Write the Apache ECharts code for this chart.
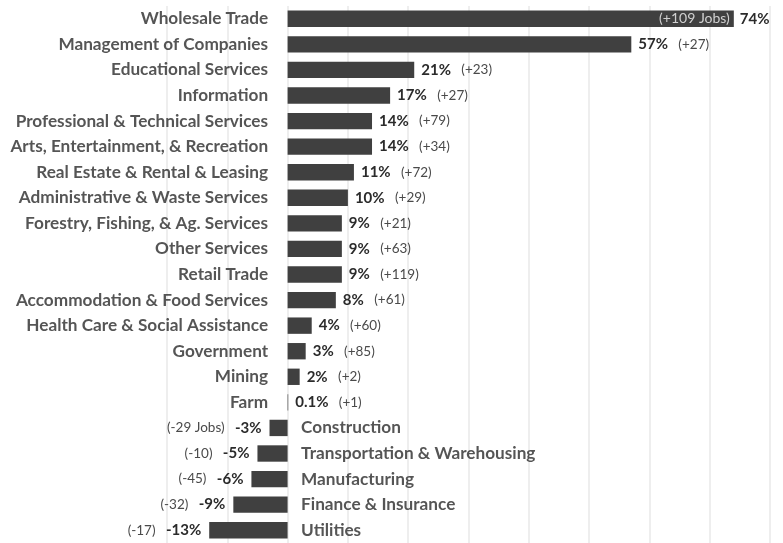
<!DOCTYPE html>
<html>
<head>
<meta charset="utf-8">
<script src="https://cdn.jsdelivr.net/npm/echarts@6/dist/echarts.min.js"></script>
<style>
  html, body { margin: 0; padding: 0; background: #ffffff; }
  #chart { width: 783px; height: 543px; }
</style>
</head>
<body>
<div id="chart"></div>
<script>
// Industry employment change: percent growth and job count per sector
const categories = [
  'Wholesale Trade',
  'Management of Companies',
  'Educational Services',
  'Information',
  'Professional & Technical Services',
  'Arts, Entertainment, & Recreation',
  'Real Estate & Rental & Leasing',
  'Administrative & Waste Services',
  'Forestry, Fishing, & Ag. Services',
  'Other Services',
  'Retail Trade',
  'Accommodation & Food Services',
  'Health Care & Social Assistance',
  'Government',
  'Mining',
  'Farm',
  'Construction',
  'Transportation & Warehousing',
  'Manufacturing',
  'Finance & Insurance',
  'Utilities'
];
const pctChange = [74, 57, 21, 17, 14, 14, 11, 10, 9, 9, 9, 8, 4, 3, 2, 0.1, -3, -5, -6, -9, -13];
const jobChange = [109, 27, 23, 27, 79, 34, 72, 29, 21, 63, 119, 61, 60, 85, 2, 1, -29, -10, -45, -32, -17];
const xTicks = { min: -20, max: 80, step: 10 };

const FONT = 'Lato';
const TEXT = '#2b2b2b';
const BAR = '#404040';

function jobsText(i) {
  const n = jobChange[i];
  const s = (n > 0 ? '+' : '') + n;
  return i === 0 || i === 16 ? '(' + s + ' Jobs)' : '(' + s + ')';
}

const richStyles = {
  p: { fontFamily: FONT, fontWeight: 'bold', fontSize: 15, color: TEXT },
  j: { fontFamily: FONT, fontSize: 13.5, color: '#4a4a4a' }
};

const barData = pctChange.map(function (v, i) {
  const pct = '{p|' + v + '%}';
  let label;
  if (i === 0) {
    label = { position: 'right', distance: 6, formatter: pct };
  } else if (v >= 0) {
    label = { position: 'right', distance: 7, formatter: pct + '{j|   ' + jobsText(i) + '}' };
  } else {
    label = { position: 'left', distance: 8, formatter: '{j|' + jobsText(i) + '   }' + pct };
  }
  return { value: v, label: label };
});

// Job count drawn inside the longest bar
const innerData = pctChange.map(function (v, i) {
  return i === 0 ? {
    value: v,
    label: { show: true, position: 'insideRight', distance: 4, formatter: jobsText(i),
      fontFamily: FONT, fontSize: 14, color: '#d0d0d0' }
  } : { value: v, label: { show: false } };
});

// Sector names anchored at zero, on the side away from the bar
const nameData = pctChange.map(function (v, i) {
  return {
    value: [0, categories[i]],
    label: v >= 0
      ? { position: 'left', distance: 19, align: 'right' }
      : { position: 'right', distance: 13, align: 'left' }
  };
});

const chart = echarts.init(document.getElementById('chart'), null, { renderer: 'canvas' });
chart.setOption({
  animation: false,
  backgroundColor: '#ffffff',
  grid: { left: 167, right: 13, top: 6, bottom: 0, containLabel: false },
  xAxis: {
    type: 'value',
    min: xTicks.min, max: xTicks.max, interval: xTicks.step,
    axisLabel: { show: false },
    axisLine: { show: false },
    axisTick: { show: false },
    splitLine: { show: true, lineStyle: { color: '#e9e9e9', width: 1.5 } }
  },
  yAxis: {
    type: 'category',
    data: categories,
    inverse: true,
    axisLabel: { show: false },
    axisLine: { show: false },
    axisTick: { show: false },
    splitLine: { show: false }
  },
  series: [
    {
      type: 'bar',
      data: barData,
      barCategoryGap: '36%',
      itemStyle: { color: BAR },
      label: { show: true, rich: richStyles },
      silent: true,
      z: 2
    },
    {
      type: 'bar',
      data: innerData,
      barGap: '-100%',
      barCategoryGap: '36%',
      itemStyle: { color: 'rgba(0,0,0,0)' },
      silent: true,
      z: 3
    },
    {
      type: 'scatter',
      data: nameData,
      symbolSize: 1,
      itemStyle: { color: 'rgba(0,0,0,0)' },
      label: {
        show: true,
        formatter: function (p) { return p.value[1]; },
        fontFamily: FONT, fontWeight: 'bold', fontSize: 17.2, color: TEXT
      },
      silent: true,
      z: 4
    }
  ]
});
</script>
</body>
</html>
